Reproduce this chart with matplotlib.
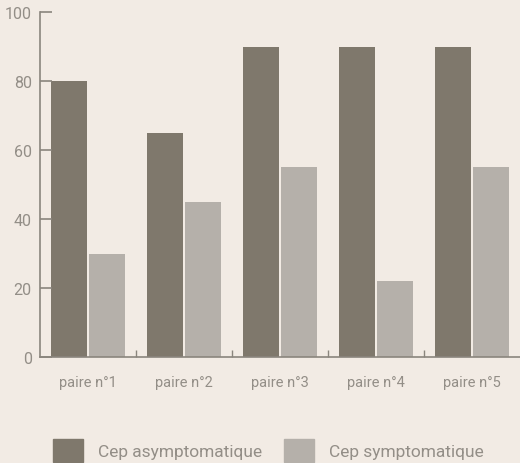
import numpy as np
import matplotlib.pyplot as plt
from matplotlib.patches import Patch

# données
paires = ["paire n°1", "paire n°2", "paire n°3", "paire n°4", "paire n°5"]
asymptomatique = [80, 65, 90, 90, 90]
symptomatique = [30, 45, 55, 22, 55]

fond = "#f2ebe4"
gris_texte = "#938e87"
gris_axe = "#8a857d"
c_asym = "#7f786c"
c_sym = "#b5b0aa"

plt.rcParams["font.family"] = ["Roboto", "DejaVu Sans"]

fig = plt.figure(figsize=(5.2, 4.64), dpi=100, facecolor=fond)
ax = fig.add_axes([40 / 520, 106 / 464, 480 / 520, 345 / 464])
ax.set_facecolor(fond)

x = np.arange(len(paires))
ax.bar(x - 0.198, asymptomatique, width=0.365, color=c_asym)
ax.bar(x + 0.198, symptomatique, width=0.365, color=c_sym)

ax.set_xlim(-0.5, 4.5)
ax.set_ylim(0, 100)
ax.set_yticks([0, 20, 40, 60, 80, 100])
ax.set_xticks(x)
ax.set_xticklabels(paires)
ax.set_xticks(x[:-1] + 0.5, minor=True)

for s in ["top", "right"]:
    ax.spines[s].set_visible(False)
for s in ["left", "bottom"]:
    ax.spines[s].set_color(gris_axe)
    ax.spines[s].set_linewidth(1.2)

ax.tick_params(axis="y", direction="in", length=8.6, width=1.2, color=gris_axe,
               labelcolor=gris_texte, labelsize=11.5, pad=6)
ax.tick_params(axis="x", which="major", length=0, labelcolor=gris_texte,
               labelsize=10.5, pad=13)
ax.tick_params(axis="x", which="minor", direction="in", length=5, width=1,
               color=gris_axe)

handles = [Patch(color=c_asym, label="Cep asymptomatique"),
           Patch(color=c_sym, label="Cep symptomatique")]
leg = fig.legend(handles=handles, loc="center", bbox_to_anchor=(0.516, 0.027),
                 ncol=2, frameon=False, fontsize=12.5, handlelength=1.7,
                 handleheight=1.7, handletextpad=0.85, columnspacing=1.3)
for t in leg.get_texts():
    t.set_color(gris_texte)

fig.savefig("out.png", dpi=100, facecolor=fond)
